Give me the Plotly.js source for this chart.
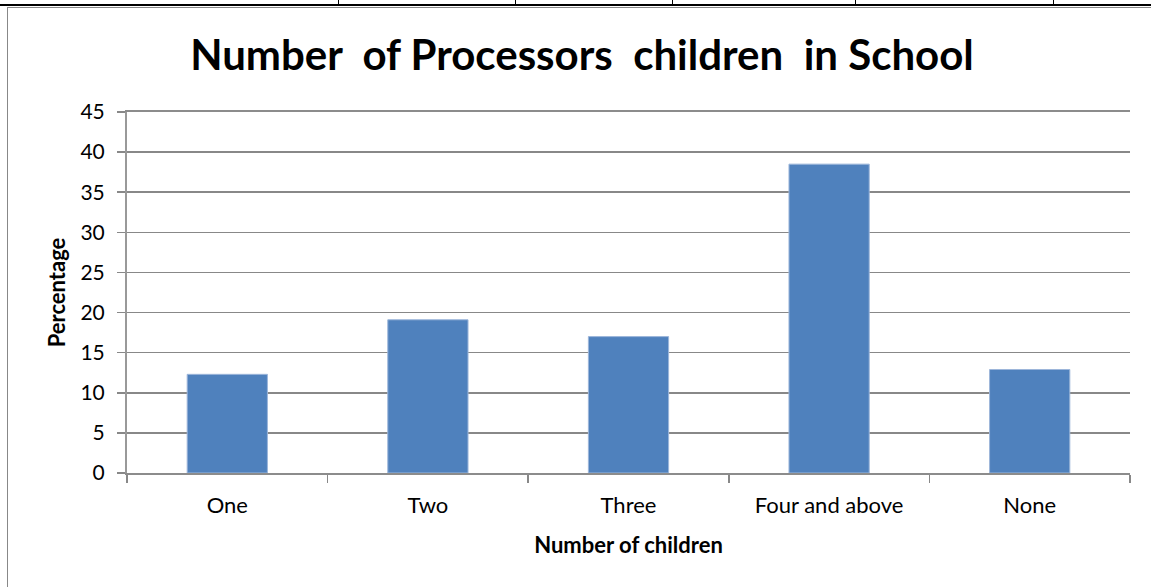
<!DOCTYPE html>
<html>
<head>
<meta charset="utf-8">
<script src="https://cdn.plot.ly/plotly-3.0.1.min.js"></script>
<style>
  html, body { margin: 0; padding: 0; background: #fff; }
  #wrap { position: relative; width: 1151px; height: 587px; overflow: hidden; }
  #chart { position: absolute; left: 0; top: 0; width: 1151px; height: 587px; }
  /* frame of the chart object and the table rule above it */
  .frame { position: absolute; left: 7px; top: 7px; width: 1160px; height: 600px; border: 1px solid #888; }
  .rule { position: absolute; left: 0; top: 4px; width: 1151px; height: 2px; background: #000; }
  .tick { position: absolute; top: 0; width: 1px; height: 5px; background: #000; }
</style>
</head>
<body>
<div id="wrap">
  <div class="frame"></div>
  <div class="rule"></div>
  <div class="tick" style="left:338px"></div>
  <div class="tick" style="left:515px"></div>
  <div class="tick" style="left:672px"></div>
  <div class="tick" style="left:855px"></div>
  <div class="tick" style="left:1053px"></div>
  <div id="chart"></div>
</div>
<script>
// Share of processors by number of their children attending school
const categories = ["One", "Two", "Three", "Four and above", "None"];
const percentages = [12.3, 19.1, 17.0, 38.5, 12.9];
const yTicks = [0, 5, 10, 15, 20, 25, 30, 35, 40, 45];

const font = "Lato, 'Open Sans', sans-serif";

const trace = {
  type: "bar",
  x: categories,
  y: percentages,
  marker: { color: "#4F81BD", line: { color: "#9DB6DA", width: 1 } },
  hoverinfo: "x+y"
};

const layout = {
  width: 1151,
  height: 587,
  margin: { l: 127, r: 21, t: 112, b: 114 },
  paper_bgcolor: "rgba(0,0,0,0)",
  plot_bgcolor: "rgba(0,0,0,0)",
  bargap: 0.6,
  showlegend: false,
  font: { family: font, color: "#000" },
  title: {
    text: "<b>Number&nbsp; of Processors&nbsp; children&nbsp; in School</b>",
    font: { family: font, size: 42, color: "#000" },
    x: 582 / 1151, xref: "container", xanchor: "center",
    y: 1 - 55 / 587, yref: "container", yanchor: "middle"
  },
  xaxis: {
    type: "category",
    tickson: "boundaries",
    ticks: "outside",
    ticklen: 8,
    tickwidth: 1.5,
    tickcolor: "#888",
    showline: true,
    mirror: true,
    linecolor: "#8c8c8c",
    linewidth: 1.8,
    showgrid: false,
    tickfont: { family: font, size: 22 },
    ticklabelstandoff: 12,
    title: { text: "<b>Number of children</b>", font: { family: font, size: 22 }, standoff: 20 }
  },
  yaxis: {
    range: [0, 45],
    tickvals: yTicks,
    ticks: "outside",
    ticklen: 8,
    tickwidth: 1.5,
    tickcolor: "#888",
    showline: true,
    linecolor: "#999",
    linewidth: 2,
    gridcolor: "#888",
    gridwidth: 1.6,
    zeroline: false,
    tickfont: { family: font, size: 21 },
    ticklabelstandoff: 8,
    title: { text: "<b>Percentage</b>", font: { family: font, size: 22 }, standoff: 9 }
  }
};

Plotly.newPlot("chart", [trace], layout, { staticPlot: true, displayModeBar: false });
</script>
</body>
</html>
